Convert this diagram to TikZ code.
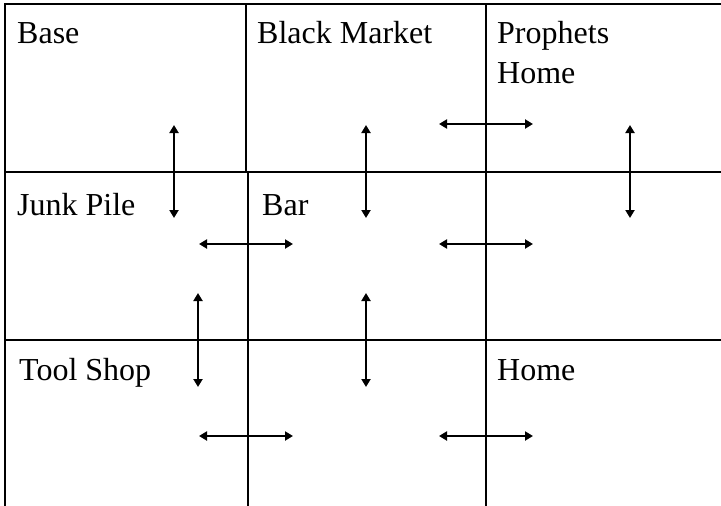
\documentclass[tikz,border=0pt]{standalone}
\usepackage{fontspec}
\setmainfont{Liberation Serif}
\usetikzlibrary{arrows.meta}

\tikzset{
  room/.style={anchor=base west,inner sep=0,font=\fontsize{32}{40}\selectfont,align=left},
  wall/.style={line width=2.2pt},
  door/.style={line width=2pt,{Triangle[length=8pt,width=9pt]}-{Triangle[length=8pt,width=9pt]}}
}

\begin{document}
\begin{tikzpicture}[x=1pt,y=-1pt]
  \useasboundingbox (0,0) rectangle (721,506);

  \node[room] (base) at (17,43) {Base};
  \node[room] (market) at (257,43) {Black Market};
  \node[room] (prophets) at (497,43) {Prophets};
  \node[room] (prophetshome) at (497,83) {Home};
  \node[room] (junk) at (17,215) {Junk Pile};
  \node[room] (bar) at (262,215) {Bar};
  \node[room] (tools) at (19,380) {Tool Shop};
  \node[room] (home) at (497,380) {Home};

  \draw[wall] (721,4) -- (5,4) -- (5,506);
  \draw[wall] (5,172) -- (721,172);
  \draw[wall] (5,340) -- (721,340);
  \draw[wall] (246,4) -- (246,172);
  \draw[wall] (248,172) -- (248,506);
  \draw[wall] (486,4) -- (486,506);

  \coordinate (basein) at (174,125);
  \coordinate (junkout) at (174,218);
  \coordinate (marketin) at (366,125);
  \coordinate (barout) at (366,218);
  \coordinate (prophetsin) at (630,125);
  \coordinate (eastout) at (630,218);
  \coordinate (junkin) at (198,293);
  \coordinate (toolsout) at (198,387);
  \coordinate (barin) at (366,293);
  \coordinate (yardout) at (366,387);

  \coordinate (marketw) at (439,124);
  \coordinate (prophetse) at (533,124);
  \coordinate (junkw) at (199,244);
  \coordinate (bare) at (293,244);
  \coordinate (barw) at (439,244);
  \coordinate (easte) at (533,244);
  \coordinate (toolsw) at (199,436);
  \coordinate (yarde) at (293,436);
  \coordinate (yardw) at (439,436);
  \coordinate (homee) at (533,436);

  \draw[door] (basein) -- (junkout);
  \draw[door] (marketin) -- (barout);
  \draw[door] (prophetsin) -- (eastout);
  \draw[door] (junkin) -- (toolsout);
  \draw[door] (barin) -- (yardout);

  \draw[door] (marketw) -- (prophetse);
  \draw[door] (junkw) -- (bare);
  \draw[door] (barw) -- (easte);
  \draw[door] (toolsw) -- (yarde);
  \draw[door] (yardw) -- (homee);

\end{tikzpicture}
\end{document}
